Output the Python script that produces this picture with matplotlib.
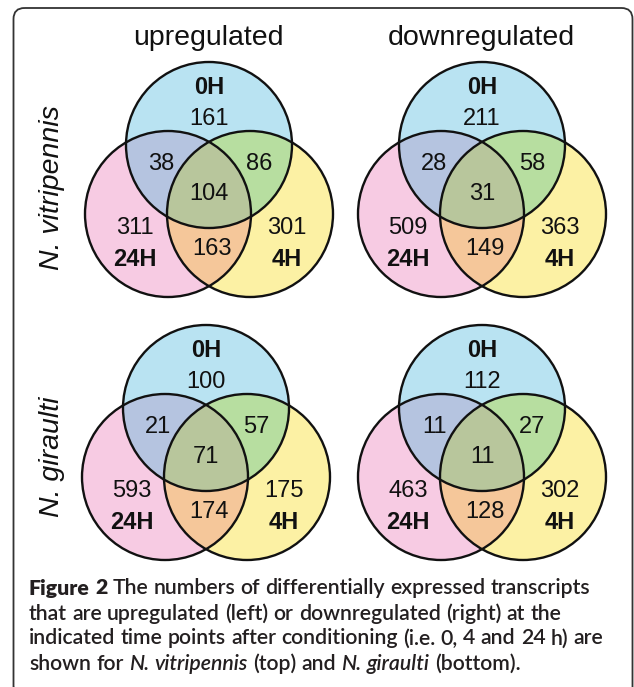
import numpy as np
import matplotlib
matplotlib.use("Agg")
import matplotlib.pyplot as plt
from matplotlib.patches import Circle, Polygon, FancyBboxPatch

# ---------------- data ----------------
col_titles = ["upregulated", "downregulated"]
row_species = ["N. vitripennis", "N. giraulti"]
set_names = ["0H", "4H", "24H"]
# region order: 0H only, 0H&24H, 0H&4H, all three, 24H only, 24H&4H, 4H only
vitripennis_up = [161, 38, 86, 104, 311, 163, 301]
vitripennis_down = [211, 28, 58, 31, 509, 149, 363]
giraulti_up = [100, 21, 57, 71, 593, 174, 175]
giraulti_down = [112, 11, 27, 11, 463, 128, 302]

caption_lines = [
    [("Figure 2", "bold"), ("The numbers of differentially expressed transcripts", "normal")],
    [("that are upregulated (left) or downregulated (right) at the", "normal")],
    [("indicated time points after conditioning (i.e. 0, 4 and 24 h) are", "normal")],
    [("shown for", "normal"), ("N. vitripennis", "italic"), ("(top) and", "normal"),
     ("N. giraulti", "italic"), ("(bottom).", "normal")],
]

# ---------------- layout ----------------
W, H = 634, 687
fig = plt.figure(figsize=(W / 100, H / 100), dpi=100)
ax = fig.add_axes([0, 0, 1, 1])
ax.set_xlim(0, W)
ax.set_ylim(H, 0)
ax.axis("off")

R = 83.0
# circle centre offsets from the diagram centroid: 0H (top), 24H (left), 4H (right)
off_0 = (0.0, -46.0)
off_24 = (-41.0, 23.0)
off_4 = (41.0, 23.0)

col_0 = "#b9e3f2"
col_24 = "#f7cbe3"
col_4 = "#fcf1a4"
col_0_24 = "#b5c4e0"
col_0_4 = "#b7dea0"
col_24_4 = "#f5c79a"
col_all = "#b8c69c"

centers = {(0, 0): (209, 191), (0, 1): (482, 191), (1, 0): (206, 454), (1, 1): (482, 454)}
data = {(0, 0): vitripennis_up, (0, 1): vitripennis_down,
        (1, 0): giraulti_up, (1, 1): giraulti_down}

FONT = ["Liberation Sans", "DejaVu Sans"]


def region_poly(circs):
    t = np.linspace(0, 2 * np.pi, 1440, endpoint=False)
    pts = []
    for i, (cx, cy) in enumerate(circs):
        p = np.column_stack([cx + R * np.cos(t), cy + R * np.sin(t)])
        mask = np.ones(len(p), bool)
        for j, (ox, oy) in enumerate(circs):
            if j == i:
                continue
            mask &= (p[:, 0] - ox) ** 2 + (p[:, 1] - oy) ** 2 <= R ** 2 + 1e-6
        pts.append(p[mask])
    pts = np.vstack(pts)
    c = pts.mean(axis=0)
    ang = np.arctan2(pts[:, 1] - c[1], pts[:, 0] - c[0])
    return pts[np.argsort(ang)]


num_fs = 17


def label(x, y, s, bold=False, fs=num_fs):
    ax.text(x, y + 0.716 * fs / 0.72 / 2, s, ha="center", va="baseline",
            fontsize=fs, fontweight="bold" if bold else "normal",
            family=FONT, color="#111111")


for key, (gx, gy) in centers.items():
    c0 = (gx + off_0[0], gy + off_0[1])
    c24 = (gx + off_24[0], gy + off_24[1])
    c4 = (gx + off_4[0], gy + off_4[1])
    for c, col in [(c24, col_24), (c4, col_4), (c0, col_0)]:
        ax.add_patch(Circle(c, R, fc=col, ec="none", zorder=1))
    for pair, col in [((c0, c24), col_0_24), ((c0, c4), col_0_4), ((c24, c4), col_24_4)]:
        ax.add_patch(Polygon(region_poly(list(pair)), closed=True, fc=col, ec="none", zorder=2))
    ax.add_patch(Polygon(region_poly([c0, c24, c4]), closed=True, fc=col_all, ec="none", zorder=3))
    for c in (c0, c24, c4):
        ax.add_patch(Circle(c, R, fc="none", ec="#111111", lw=1.7, zorder=4))

    v = data[key]
    label(gx, gy - 105, set_names[0], bold=True)
    label(gx, gy - 74, str(v[0]))
    label(gx - 48, gy - 29, str(v[1]))
    label(gx + 50, gy - 29, str(v[2]))
    label(gx, gy + 1, str(v[3]))
    label(gx - 74, gy + 35, str(v[4]))
    label(gx - 74, gy + 67, set_names[2], bold=True)
    label(gx + 3, gy + 56, str(v[5]))
    label(gx + 78, gy + 35, str(v[6]))
    label(gx + 78, gy + 67, set_names[1], bold=True)

# column titles
for x, t in zip([208, 481], col_titles):
    ax.text(x, 45, t, ha="center", va="baseline", fontsize=20.5, family=FONT, color="#111111")
# row labels
for y, s in zip([188, 457], row_species):
    ax.text(59, y, s, ha="center", va="baseline", rotation=90, rotation_mode="anchor",
            fontsize=20.5, fontstyle="italic", family=FONT, color="#111111")

# border
ax.add_patch(FancyBboxPatch((13.5, 8), 619, 690, boxstyle="round,pad=0,rounding_size=11",
                            fc="none", ec="#333333", lw=1.3, zorder=5, clip_on=False))

# caption
renderer = fig.canvas.get_renderer()
cap_font = ["Lato", "DejaVu Sans"]
cap_fs = 15.3
cap_col = "#231f20"


def mk(x, y, s, style):
    kw = dict(fontsize=cap_fs, family=cap_font, color=cap_col, ha="left", va="baseline",
              fontweight="semibold")
    if style == "bold":
        kw["fontweight"] = "heavy"
    elif style == "italic":
        kw["fontstyle"] = "italic"
    return ax.text(x, y, s, **kw)


tmp1 = mk(0, -100, "n n", "normal")
tmp2 = mk(0, -100, "nn", "normal")
space_w = tmp1.get_window_extent(renderer).width - tmp2.get_window_extent(renderer).width
tmp1.remove()
tmp2.remove()

base_y = [594.5, 619.5, 644.5, 669.5]
for line, y in zip(caption_lines, base_y):
    x = 29
    for txt, style in line:
        words = txt.split(" ")
        for w in words:
            t = mk(x, y, w, style)
            x += t.get_window_extent(renderer).width + space_w

fig.savefig("out.png", dpi=100)
